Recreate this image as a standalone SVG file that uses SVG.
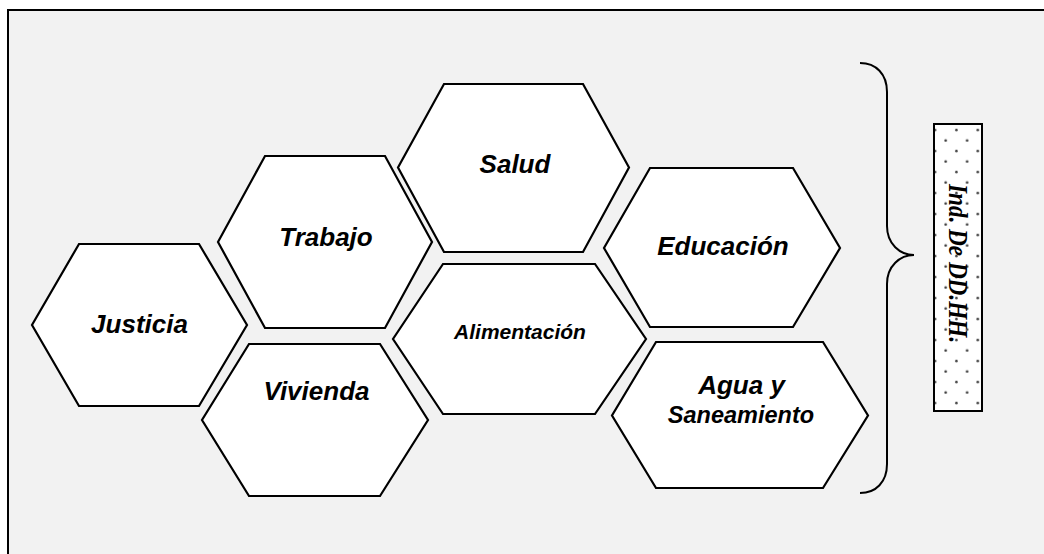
<svg xmlns="http://www.w3.org/2000/svg" width="1044" height="554" viewBox="0 0 1044 554">
<defs>
<style>
.hex{fill:#ffffff;stroke:#000000;stroke-width:2.2;stroke-linejoin:miter}
.lbl{font-family:"Liberation Sans",Arial,sans-serif;font-weight:bold;font-style:italic;font-size:26px;fill:#000;text-anchor:middle}
.brace{fill:none;stroke:#000;stroke-width:2}
</style>
<pattern id="dots" patternUnits="userSpaceOnUse" x="929.65" y="124.75" width="21.4" height="21">
<rect width="21.4" height="21" fill="#ffffff"/>
<circle cx="5.35" cy="5.25" r="1.3" fill="#333"/>
<circle cx="16.05" cy="15.75" r="1.3" fill="#333"/>
</pattern>
</defs>
<rect x="0" y="0" width="1044" height="554" fill="#ffffff"/>
<rect x="8" y="10" width="1045" height="560" fill="#f2f2f2" stroke="#000" stroke-width="2"/>

<g id="justicia">
<polygon class="hex" points="79,244 199,244 247,325 199,406 79,406 32,325"/>
<text class="lbl" x="139.5" y="332.5">Justicia</text>
</g>
<g id="trabajo">
<polygon class="hex" points="265,156 385,156 432,242 385,328 265,328 218,242"/>
<text class="lbl" x="326" y="246">Trabajo</text>
</g>
<g id="vivienda">
<polygon class="hex" points="249,344 380,344 428,420 380,496 249,496 202,420"/>
<text class="lbl" x="316.5" y="400">Vivienda</text>
</g>
<g id="salud">
<polygon class="hex" points="444,84 583,84 629,167.5 583,252 444,252 398,167.5"/>
<text class="lbl" x="515" y="172.5">Salud</text>
</g>
<g id="alimentacion">
<polygon class="hex" points="443,264 595,264 646,339 595,414 443,414 393,339"/>
<text class="lbl" x="520" y="338.5" style="font-size:21px">Alimentación</text>
</g>
<g id="educacion">
<polygon class="hex" points="650,168 793,168 840,248 793,327 650,327 604,248"/>
<text class="lbl" x="723" y="254.5">Educación</text>
</g>
<g id="agua">
<polygon class="hex" points="656,342 823,342 868,415.5 823,488 656,488 612,415.5"/>
<text class="lbl" x="741.5" y="394">Agua y</text>
<text class="lbl" x="741" y="422.5" style="font-size:23.5px">Saneamiento</text>
</g>

<g id="connectors">
<path class="brace" d="M860,63 C876,63 887,74 887,92 L887,226 C887,244 900,255 914,255 C900,255 887,266 887,284 L887,464 C887,482 876,493 860,493"/>
</g>

<g id="indicador">
<rect x="934" y="124" width="48" height="287" fill="url(#dots)" stroke="#000" stroke-width="2"/>
<text transform="translate(948.5,263.5) rotate(90)" x="0" y="0" text-anchor="middle" textLength="159" lengthAdjust="spacingAndGlyphs" style="font-family:'Liberation Serif','Times New Roman',serif;font-weight:bold;font-style:italic;font-size:27px;fill:#000">Ind. De DD.HH.</text>
</g>
</svg>
